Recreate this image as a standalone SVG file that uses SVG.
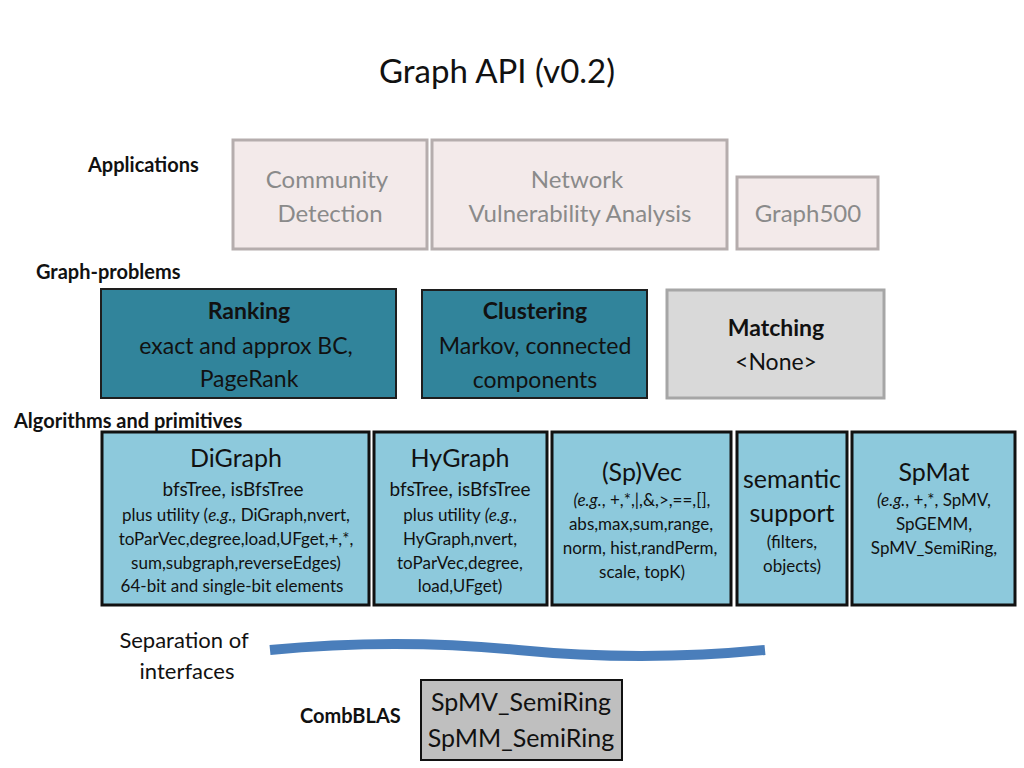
<svg xmlns="http://www.w3.org/2000/svg" width="1024" height="768" viewBox="0 0 1024 768">
<style>
text{font-family:Lato,"Open Sans","Liberation Sans",sans-serif;text-anchor:middle;fill:#111}
.lbl{font-weight:bold;font-size:20px;text-anchor:start}
.app rect{fill:#f3eaea;stroke:#b5adad;stroke-width:3}
.app text{fill:#8a8a8a;font-size:24px}
.prob rect{fill:#31849b;stroke:#1e1e1e;stroke-width:2}
.prob text{font-size:23px}
.alg rect{fill:#8dc9dc;stroke:#111;stroke-width:3}
.s{font-size:17px}
.m{font-size:19px}
.h{font-size:25px}
</style>
<rect width="1024" height="768" fill="#fff"/>
<text x="497" y="83" style="font-size:33px">Graph API (v0.2)</text>
<text class="lbl" x="88" y="172">Applications</text>
<text class="lbl" x="36" y="279">Graph-problems</text>
<text class="lbl" x="14" y="428">Algorithms and primitives</text>
<g id="community" class="app"><rect x="233" y="140" width="194" height="109"/><text x="327" y="188">Community</text><text x="330" y="222">Detection</text></g>
<g id="network" class="app"><rect x="432" y="140" width="295" height="109"/><text x="577" y="188">Network</text><text x="580" y="222">Vulnerability Analysis</text></g>
<g id="graph500" class="app"><rect x="737" y="177" width="141" height="72"/><text x="808" y="222">Graph500</text></g>
<g id="ranking" class="prob"><rect x="101" y="289" width="295" height="109"/><text x="249" y="319" font-weight="bold">Ranking</text><text x="246" y="354">exact and approx BC,</text><text x="249" y="387">PageRank</text></g>
<g id="clustering" class="prob"><rect x="422" y="290" width="225" height="108"/><text x="535" y="319" font-weight="bold">Clustering</text><text x="535" y="354">Markov, connected</text><text x="535" y="388">components</text></g>
<g id="matching"><rect x="667" y="290" width="217" height="108" fill="#d9d9d9" stroke="#a6a6a6" stroke-width="3"/><text x="776" y="336" style="font-size:23px;font-weight:bold">Matching</text><text x="776" y="370" style="font-size:23px">&lt;None&gt;</text></g>
<g id="digraph" class="alg"><rect x="102" y="432" width="267" height="173"/><text class="h" x="236" y="467">DiGraph</text><text class="m" x="233" y="496">bfsTree, isBfsTree</text><text class="s" x="236" y="521">plus utility (<tspan font-style="italic">e.g.,</tspan> DiGraph,nvert,</text><text class="s" x="236" y="545">toParVec,degree,load,UFget,+,*,</text><text class="s" x="236" y="569">sum,subgraph,reverseEdges)</text><text class="s" x="232" y="592">64-bit and single-bit elements</text></g>
<g id="hygraph" class="alg"><rect x="374" y="432" width="173" height="173"/><text class="h" x="460" y="467">HyGraph</text><text class="m" x="460" y="496">bfsTree, isBfsTree</text><text class="s" x="460" y="521">plus utility <tspan font-style="italic">(e.g.</tspan>,</text><text class="s" x="460" y="545">HyGraph,nvert,</text><text class="s" x="460" y="569">toParVec,degree,</text><text class="s" x="460" y="592">load,UFget)</text></g>
<g id="spvec" class="alg"><rect x="552" y="432" width="179" height="173"/><text class="h" x="642" y="481">(Sp)Vec</text><text class="s" x="642" y="506"><tspan font-style="italic">(e.g.</tspan>, +,*,|,&amp;,&gt;,==,[],</text><text class="s" x="641" y="530">abs,max,sum,range,</text><text class="s" x="640" y="554">norm, hist,randPerm,</text><text class="s" x="642" y="578">scale, topK)</text></g>
<g id="semantic" class="alg"><rect x="737" y="432" width="110" height="173"/><text class="h" x="792" y="488">semantic</text><text class="h" x="792" y="522">support</text><text class="s" x="792" y="548">(filters,</text><text class="s" x="792" y="572">objects)</text></g>
<g id="spmat" class="alg"><rect x="852" y="432" width="163" height="173"/><text class="h" x="934" y="481">SpMat</text><text class="s" x="934" y="506"><tspan font-style="italic">(e.g.</tspan>, +,*, SpMV,</text><text class="s" x="934" y="530">SpGEMM,</text><text class="s" x="934" y="554">SpMV_SemiRing,</text></g>
<text x="184" y="648" style="font-size:22px">Separation of</text>
<text x="187" y="679" style="font-size:22px">interfaces</text>
<path d="M270 650 Q395 638 518 650 T765 650" fill="none" stroke="#4a7ebb" stroke-width="10"/>
<text class="lbl" x="300" y="723">CombBLAS</text>
<g id="combblas"><rect x="421" y="680" width="201" height="80" fill="#bfbfbf" stroke="#111" stroke-width="2"/><text x="521" y="711" style="font-size:25px">SpMV_SemiRing</text><text x="521" y="747" style="font-size:25px">SpMM_SemiRing</text></g>
<g id="connectors"/>
</svg>
